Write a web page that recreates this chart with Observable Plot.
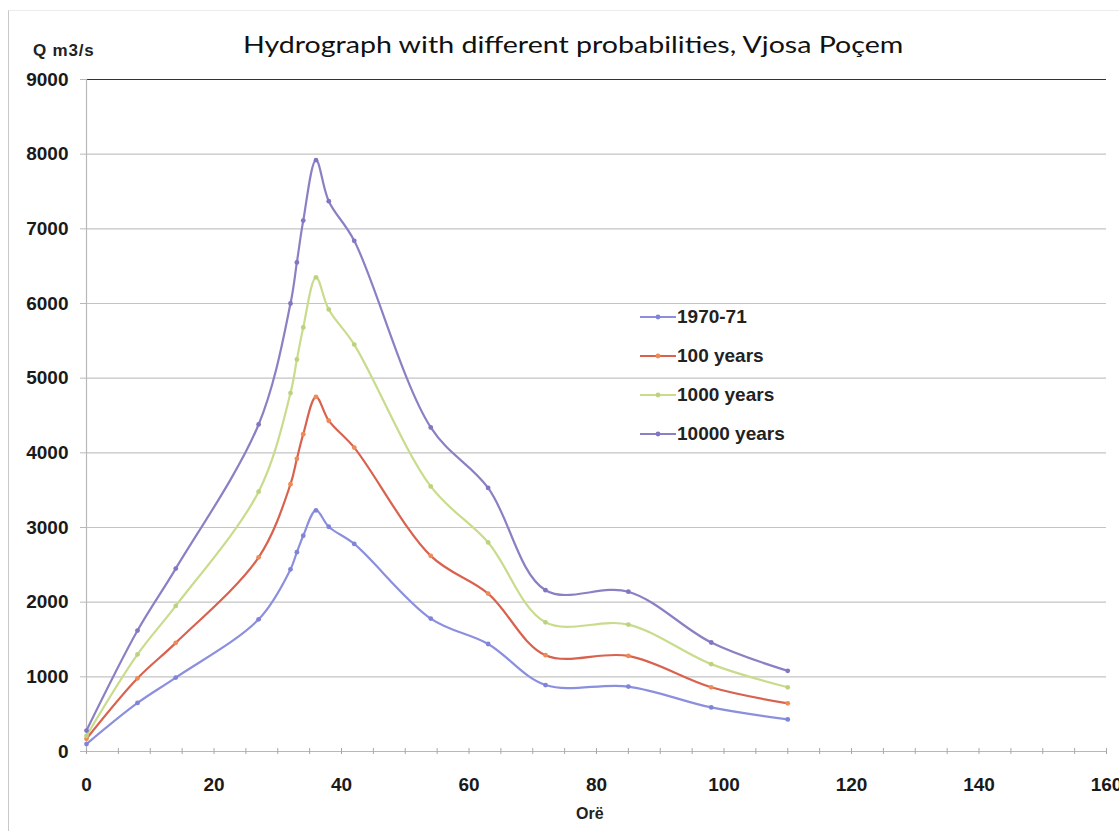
<!DOCTYPE html>
<html>
<head>
<meta charset="utf-8">
<script src="https://cdn.jsdelivr.net/npm/d3@7"></script>
<script src="https://cdn.jsdelivr.net/npm/@observablehq/plot@0.6"></script>
<style>
  html, body { margin: 0; padding: 0; background: #fff; }
  #wrap { position: relative; width: 1119px; height: 831px; overflow: hidden; background: #fff; }
  #frame { position: absolute; left: 8px; top: 10px; width: 1200px; height: 900px; border-left: 1px solid #c8c8c8; border-top: 1px solid #ececec; }
  #title { position: absolute; left: 243px; top: 29px; white-space: nowrap; font-family: Lato, "Open Sans", sans-serif; font-size: 24px; color: #111; transform: scaleX(1.19); transform-origin: 0 0; }
  #ylab { position: absolute; left: 33px; top: 41px; font-family: "Liberation Sans", Arial, sans-serif; font-weight: bold; font-size: 17px; letter-spacing: 0.8px; color: #222; }
  #xlab { position: absolute; left: 576px; top: 805px; font-family: "Liberation Sans", Arial, sans-serif; font-weight: bold; font-size: 16px; color: #222; }
  #legend { position: absolute; left: 640px; top: 297px; font-family: "Liberation Sans", Arial, sans-serif; font-weight: bold; font-size: 19px; color: #222; }
  .item { display: flex; align-items: center; height: 39px; }
  .item svg { margin-right: 1px; }
  #chart { position: absolute; left: 0; top: 0; }
</style>
</head>
<body>
<div id="wrap">
  <div id="frame"></div>
  <div id="chart"></div>
  <div id="title"></div>
  <div id="ylab"></div>
  <div id="xlab"></div>
  <div id="legend"></div>
</div>
<script>
// ---- data ----
const hours  = [0, 8, 14, 27, 32, 33, 34, 36, 38, 42, 54, 63, 72, 85, 98, 110];
const q1970  = [100, 650, 990, 1770, 2440, 2670, 2890, 3230, 3010, 2780, 1780, 1440, 890, 870, 590, 430];
const q100   = [170, 980, 1455, 2600, 3580, 3920, 4250, 4750, 4430, 4070, 2620, 2115, 1290, 1280, 860, 645];
const q1000  = [210, 1300, 1950, 3480, 4800, 5250, 5680, 6350, 5920, 5450, 3550, 2800, 1730, 1700, 1170, 860];
const q10000 = [280, 1620, 2450, 4380, 6000, 6550, 7110, 7920, 7370, 6840, 4340, 3530, 2160, 2140, 1460, 1080];

const seriesNames  = ["1970-71", "100 years", "1000 years", "10000 years"];
const seriesValues = [q1970, q100, q1000, q10000];
const lineColors   = ["#8b8fde", "#d9624f", "#c8dc8c", "#8a80c4"];
const dotColors    = ["#7f84d8", "#ee8a55", "#bcd37e", "#8077c0"];

const xTickLabels = [0, 20, 40, 60, 80, 100, 120, 140, 160];
const xMinorTicks = d3.range(0, 161, 5);
const yTickLabels = [0, 1000, 2000, 3000, 4000, 5000, 6000, 7000, 8000, 9000];

const titleText = "Hydrograph with different probabilities, Vjosa Poçem";
const yLabelText = "Q m3/s";
const xLabelText = "Orë";

// ---- table ----
const rows = [];
seriesNames.forEach((name, i) => {
  hours.forEach((h, j) => rows.push({series: name, hour: h, q: seriesValues[i][j]}));
});

const font = '"Liberation Sans", Arial, sans-serif';

const chart = Plot.plot({
  width: 1119,
  height: 831,
  marginLeft: 86,
  marginTop: 79,
  marginRight: 13,
  marginBottom: 80,
  style: {fontFamily: font, background: "transparent", overflow: "visible"},
  x: {domain: [0, 160]},
  y: {domain: [0, 9000]},
  color: {domain: seriesNames, range: lineColors},
  marks: [
    Plot.ruleY(yTickLabels.filter(d => d > 0 && d < 9000), {stroke: "#c4c4c4", strokeWidth: 1.2}),
    Plot.ruleY([9000], {stroke: "#333", strokeWidth: 1}),
    Plot.ruleX([0], {stroke: "#b8b8b8", strokeWidth: 1.2}),
    Plot.ruleY([0], {stroke: "#b8b8b8", strokeWidth: 1.2}),
    Plot.axisY({ticks: yTickLabels, tickSize: 6, tickPadding: 12, stroke: "#b8b8b8",
      fontSize: 19, fontWeight: "bold", fill: "#1a1a1a", label: null, tickFormat: d => String(d)}),
    Plot.axisX({ticks: xMinorTicks, tickSize: 6, dy: -3, text: null, stroke: "#a8a8a8", label: null}),
    Plot.axisX({ticks: xTickLabels, tickSize: 0, tickPadding: 26, fontSize: 19, fontWeight: "bold",
      fill: "#1a1a1a", label: null, tickFormat: d => String(d)}),
    Plot.line(rows, {x: "hour", y: "q", z: "series", stroke: "series", strokeWidth: 2.2, curve: "catmull-rom"}),
    Plot.dot(rows, {x: "hour", y: "q", r: 2.4, fill: d => dotColors[seriesNames.indexOf(d.series)], stroke: "none"})
  ]
});
document.getElementById("chart").appendChild(chart);

document.getElementById("title").textContent = titleText;
document.getElementById("ylab").textContent = yLabelText;
document.getElementById("xlab").textContent = xLabelText;

const legend = document.getElementById("legend");
seriesNames.forEach((name, i) => {
  const item = document.createElement("div");
  item.className = "item";
  item.innerHTML = `<svg width="36" height="12"><line x1="0" y1="6" x2="36" y2="6" stroke="${lineColors[i]}" stroke-width="2"/><circle cx="18" cy="6" r="2.4" fill="${dotColors[i]}"/></svg><span>${name}</span>`;
  legend.appendChild(item);
});
</script>
</body>
</html>
